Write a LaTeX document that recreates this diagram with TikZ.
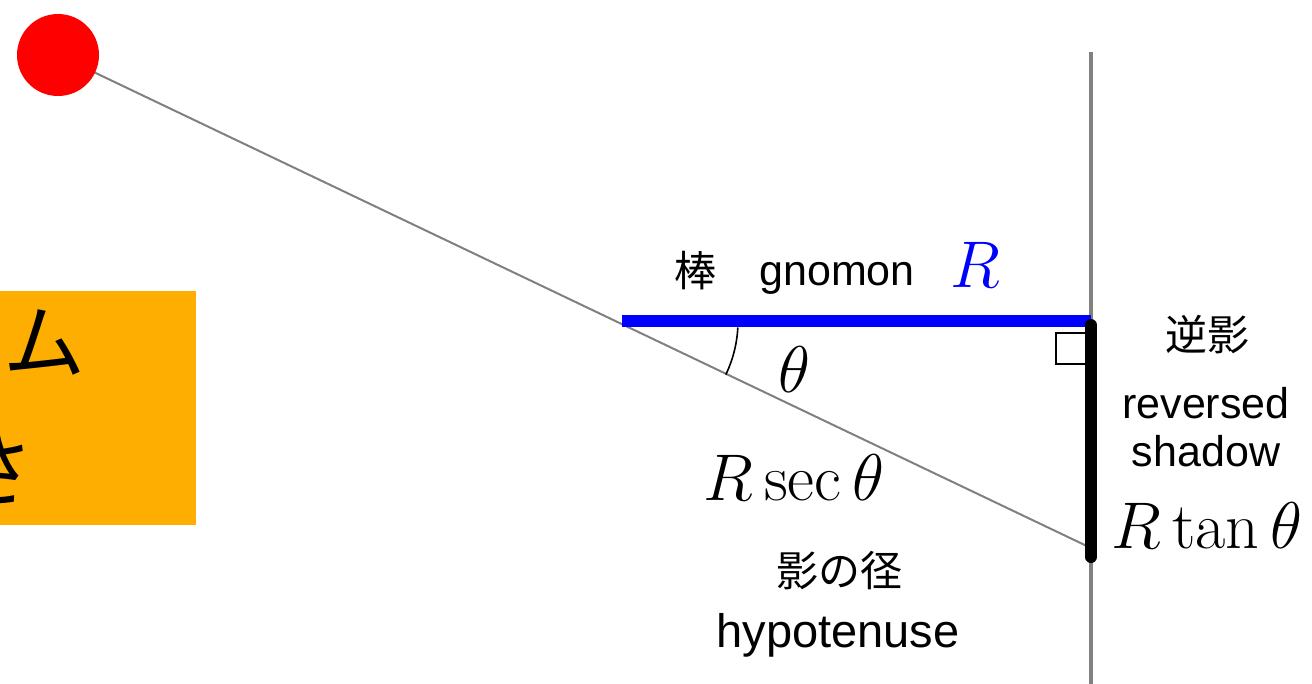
\RequirePackage{fix-cm}
\documentclass[tikz,border=0pt]{standalone}
\usepackage{fontspec}
\newfontfamily\arialfont{Liberation Sans}
\newfontfamily\jpfont{Noto Sans CJK JP}
\definecolor{sunred}{RGB}{255,0,0}
\definecolor{boxorange}{RGB}{254,174,0}
\definecolor{linegray}{RGB}{128,128,128}
\definecolor{rodblue}{RGB}{0,0,255}
\tikzset{
  sunline/.style={draw=linegray, line width=2},
  wallline/.style={draw=linegray, line width=4},
  rodline/.style={draw=rodblue, line width=12},
  shadowline/.style={draw=black, line width=12, line cap=round},
  lbl/.style={inner sep=0, font=\arialfont\fontsize{43}{50}\selectfont},
  jplbl/.style={inner sep=0, font=\jpfont\fontsize{42}{50}\selectfont},
  mathlbl/.style={inner sep=0, font=\fontsize{66}{72}\selectfont},
}
\begin{document}
\begin{tikzpicture}[x=1pt,y=-1pt]
\useasboundingbox (0,0) rectangle (1312,683);
% coordinates
\coordinate (sun) at (58,55);
\coordinate (foot) at (1091,548);
\coordinate (walltop) at (1091,52);
\coordinate (wallbot) at (1091,685);
\coordinate (rodL) at (622,321);
\coordinate (rodR) at (1091,321);
\coordinate (shTop) at (1091,325);
\coordinate (shBot) at (1091,557);
\coordinate (vertex) at (614,321);
% orange box
\fill[boxorange] (-2,291) rectangle (196,525);
\node[inner sep=0, font=\jpfont\fontsize{82}{90}\selectfont] (mu) at (44,342) {ム};
\node[inner sep=0, font=\jpfont\fontsize{82}{90}\selectfont] (sa) at (-6,469) {さ};
% wall
\draw[wallline] (walltop) -- (wallbot);
% sun ray
\draw[sunline] (sun) -- (foot);
\fill[sunred] (sun) circle[radius=41];
% rod
\draw[rodline] (rodL) -- (rodR);
% right angle mark
\draw[black, line width=2, fill=white] (1056,333) rectangle (1086,364);
% reversed shadow
\draw[shadowline] (shTop) -- (shBot);
% angle arc
\draw[black, line width=1.6] (vertex) ++(3:124) arc[start angle=3, end angle=25.6, radius=124];
% labels
\node[jplbl] (bou) at (695,271) {棒};
\node[lbl, anchor=base] (gnomon) at (837,285) {gnomon};
\node[mathlbl, anchor=base, text=rodblue] (Rlbl) at (975,287) {$R$};
\node[mathlbl, anchor=base] (theta) at (794,392) {$\theta$};
\node[mathlbl, anchor=base] (sec) at (794,500) {$R\sec\theta$};
\node[jplbl] (kei) at (839,571) {影の径};
\node[lbl, anchor=base, font=\arialfont\fontsize{47}{54}\selectfont] (hyp) at (838,647) {hypotenuse};
\node[jplbl] (gyaku) at (1207,335) {逆影};
\node[lbl, anchor=base] (rev) at (1206,418) {reversed};
\node[lbl, anchor=base] (shadow) at (1206,466) {shadow};
\node[mathlbl, anchor=base] (tan) at (1207,548) {$R\tan\theta$};
\end{tikzpicture}
\end{document}
